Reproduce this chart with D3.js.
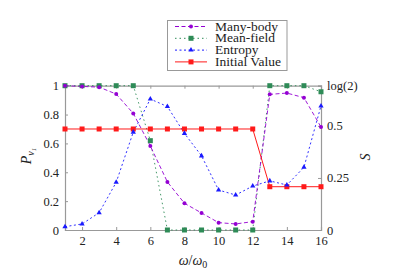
<!DOCTYPE html>
<html>
<head>
<meta charset="utf-8">
<script src="https://cdn.jsdelivr.net/npm/d3@7"></script>
<style>
  body { margin: 0; background: #fff; }
  svg text { font-family: "Liberation Serif", "DejaVu Serif", serif !important; fill: #222; }
</style>
</head>
<body>
<svg id="chart" width="399" height="279"></svg>
<script>
// data
var omega = [1, 2, 3, 4, 5, 6, 7, 8, 9, 10, 11, 12, 13, 14, 15, 16];
var manyBody = [1, 0.995, 0.99, 0.942, 0.808, 0.582, 0.333, 0.185, 0.118, 0.051, 0.042, 0.058, 0.94, 0.949, 0.917, 0.714];
var meanField = [1, 1, 1, 1, 1, 0.619, 0, 0, 0, 0, 0, 0, 1, 1, 1, 0.958];
var entropy = [0.016, 0.029, 0.083, 0.229, 0.47, 0.629, 0.593, 0.464, 0.356, 0.192, 0.168, 0.211, 0.236, 0.216, 0.301, 0.596];
var initialValue = [0.7, 0.7, 0.7, 0.7, 0.7, 0.7, 0.7, 0.7, 0.7, 0.7, 0.7, 0.7, 0.3, 0.3, 0.3, 0.3];
var xTicks = [2, 4, 6, 8, 10, 12, 14, 16];
var yTicks = [0, 0.2, 0.4, 0.6, 0.8, 1];
var sTicks = [0, 0.25, 0.5, Math.log(2)];
var sLabels = ["0", "0.25", "0.5", "log(2)"];

var svg = d3.select("#chart");
var serif = "'Liberation Serif', 'DejaVu Serif', serif";
var plotLeft = 65, plotRight = 321, plotTop = 85.7, plotBottom = 230;

var x = d3.scaleLinear().domain([1, 16]).range([plotLeft, plotRight]);
var y = d3.scaleLinear().domain([0, 1]).range([plotBottom, plotTop]);
var yS = d3.scaleLinear().domain([0, Math.log(2)]).range([plotBottom, plotTop]);

var frame = "#999";

// axes
svg.append("g").attr("transform", "translate(0," + plotBottom + ")")
  .call(d3.axisBottom(x).tickValues(xTicks).tickSize(-3).tickPadding(6).tickFormat(d3.format("d")))
svg.append("g").attr("transform", "translate(0," + plotTop + ")")
  .call(d3.axisTop(x).tickValues(xTicks).tickSize(-3).tickFormat(""))
svg.append("g").attr("transform", "translate(" + plotLeft + ",0)")
  .call(d3.axisLeft(y).tickValues(yTicks).tickSize(-3).tickPadding(6).tickFormat(function(d) { return d === 0 || d === 1 ? d : d3.format(".1f")(d); }))
svg.append("g").attr("transform", "translate(" + plotRight + ",0)")
  .call(d3.axisRight(yS).tickValues(sTicks).tickSize(-3).tickPadding(6).tickFormat(function(d, i) { return sLabels[i]; }))

svg.selectAll("g").attr("font-family", serif)
svg.selectAll(".domain").attr("stroke", frame).attr("stroke-width", 1.2)
svg.selectAll(".tick line").attr("stroke", frame)
svg.selectAll(".tick text").style("font-size", "12.5px").style("font-family", serif).attr("fill", "#222")

// series
function series(vals, scale, color, dash, width) {
  var line = d3.line().x(function(d, i) { return x(omega[i]); }).y(function(d) { return scale(d); });
  svg.append("path").datum(vals)
    .attr("d", line)
    .attr("fill", "none")
    .attr("stroke", color)
    .attr("stroke-width", width)
    .attr("stroke-dasharray", dash)
}

var purple = "#9400d3", green = "#2e8b57", blue = "#1a1aff", red = "#ff1a1a";

series(meanField, y, green, "1.5,3", 0.9)
series(entropy, yS, blue, "2,2.5", 0.9)
series(manyBody, y, purple, "4,2.5", 0.9)
series(initialValue, y, red, null, 1)

function squares(vals, scale, color, s) {
  svg.append("g").selectAll("rect").data(vals).join("rect")
    .attr("x", function(d, i) { return x(omega[i]) - s / 2; })
    .attr("y", function(d) { return scale(d) - s / 2; })
    .attr("width", s).attr("height", s)
    .attr("fill", color)
}

squares(meanField, y, green, 5)
squares(initialValue, y, red, 5)

svg.append("g").selectAll("circle").data(manyBody).join("circle")
  .attr("cx", function(d, i) { return x(omega[i]); })
  .attr("cy", function(d) { return y(d); })
  .attr("r", 2)
  .attr("fill", purple)

var tri = d3.symbol().type(d3.symbolTriangle).size(12);
svg.append("g").selectAll("path").data(entropy).join("path")
  .attr("d", tri)
  .attr("transform", function(d, i) { return "translate(" + x(omega[i]) + "," + yS(d) + ")"; })
  .attr("fill", blue)

// axis titles
svg.append("text")
  .attr("transform", "translate(" + 31 + "," + 156 + ") rotate(-90)")
  .attr("text-anchor", "middle")
  .style("font-family", serif)
  .style("font-size", "14px")
  .style("font-style", "italic")
  .html("P<tspan dy='3' font-size='10px'>ν</tspan><tspan dy='2' font-size='7px'>1</tspan>")

svg.append("text")
  .attr("transform", "translate(" + 370 + "," + 157 + ") rotate(-90)")
  .attr("text-anchor", "middle")
  .style("font-family", serif)
  .style("font-size", "14px")
  .style("font-style", "italic")
  .text("S")

svg.append("text")
  .attr("x", 193).attr("y", 265)
  .attr("text-anchor", "middle")
  .style("font-family", serif)
  .style("font-size", "14px")
  .html("<tspan font-style='italic'>ω</tspan>/<tspan font-style='italic'>ω</tspan><tspan dy='3' font-size='10px'>0</tspan>")

// legend
var legendNames = ["Many-body", "Mean-field", "Entropy", "Initial Value"];
var legendColors = [purple, green, blue, red];
var legendDash = ["4,2.5", "1.5,3", "2,2.5", null];
var legend = svg.append("g")

legend.append("rect")
  .attr("x", 167.5).attr("y", 20.5).attr("width", 119.5).attr("height", 50)
  .attr("fill", "#fff").attr("stroke", frame).attr("stroke-width", 1)

legendNames.forEach(function(name, i) {
  var ly = 26.5 + i * 11.8;
  legend.append("line")
    .attr("x1", 175).attr("x2", 207).attr("y1", ly).attr("y2", ly)
    .attr("stroke", legendColors[i]).attr("stroke-width", 1)
    .attr("stroke-dasharray", legendDash[i])
  if (i === 0) {
    legend.append("circle").attr("cx", 191).attr("cy", ly).attr("r", 2).attr("fill", purple)
  } else if (i === 2) {
    legend.append("path").attr("d", tri).attr("transform", "translate(191," + ly + ")").attr("fill", blue)
  } else {
    legend.append("rect").attr("x", 188.5).attr("y", ly - 2.5).attr("width", 5).attr("height", 5).attr("fill", legendColors[i])
  }
  legend.append("text")
    .attr("x", 215).attr("y", ly + 4)
    .style("font-family", serif)
    .style("font-size", "13.5px")
    .text(name)
})
</script>
</body>
</html>
